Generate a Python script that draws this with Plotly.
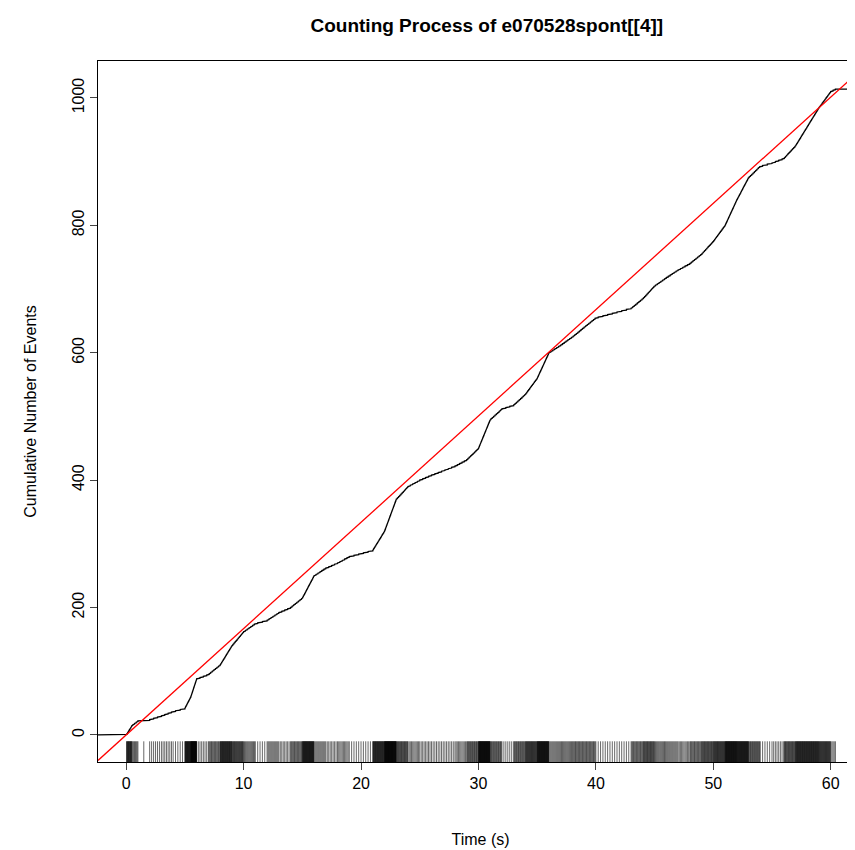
import numpy as np
import plotly.graph_objects as go

# knots of the counting process (time s, cumulative count)
knot_t = [-2.4, 0, 0.5, 1, 2, 3, 4, 5, 5.5, 6, 7, 8, 9, 10, 11, 12, 13, 14, 15, 16, 17, 18, 19, 20,
          21, 22, 23, 24, 25, 26, 27, 28, 29, 30, 31, 32, 33, 34, 35, 36, 37, 38, 39, 40, 41, 42,
          43, 44, 45, 46, 47, 48, 49, 50, 51, 52, 53, 54, 55, 56, 57, 58, 59, 60, 60.5, 62.75]
knot_n = [0, 0, 15, 22, 24, 30, 37, 42, 60, 88, 95, 110, 140, 162, 175, 180, 192, 200, 215, 250,
          262, 270, 280, 285, 290, 320, 370, 390, 400, 408, 415, 422, 432, 450, 495, 512, 518, 535,
          560, 600, 612, 625, 640, 655, 660, 665, 670, 685, 705, 718, 730, 740, 755, 775, 800, 840,
          875, 893, 898, 905, 925, 955, 985, 1010, 1015, 1015]
rate = 16.69  # slope of the red reference line (events / s)

# event times where the curve passes each integer count
counts = np.arange(1, 1016)
events = np.interp(counts, knot_n[1:], knot_t[1:])

step_x = [knot_t[0], 0]
step_y = [0, 0]
for i, t in enumerate(events):
    step_x += [t, t]
    step_y += [i, i + 1]
step_x.append(62.75)
step_y.append(1015)

rug_x, rug_y = [], []
for t in events:
    rug_x += [t, t, None]
    rug_y += [-42.5, -10, None]

fig = go.Figure()
fig.add_trace(go.Scatter(x=step_x, y=step_y, mode='lines',
                         line=dict(color='black', width=1.3)))
fig.add_trace(go.Scatter(x=rug_x, y=rug_y, mode='lines',
                         line=dict(color='black', width=0.6)))
fig.add_trace(go.Scatter(x=[-2.4, 62.75], y=[-2.4 * rate, 62.75 * rate], mode='lines',
                         line=dict(color='red', width=1.3)))

ax = dict(showline=True, linecolor='black', mirror=True, ticks='outside', ticklen=7,
          showgrid=False, zeroline=False, tickfont=dict(size=16, color='black'))
fig.update_layout(
    width=855, height=850, showlegend=False,
    plot_bgcolor='white', paper_bgcolor='white',
    font=dict(family='Liberation Sans, Arial', color='black'),
    margin=dict(l=90, r=0, t=53, b=96),
    title=dict(text='<b>Counting Process of e070528spont[[4]]</b>', x=0.56, y=0.98,
               yanchor='middle', font=dict(size=19)),
    xaxis=dict(ax, range=[-2.4, 62.75], tickvals=[0, 10, 20, 30, 40, 50, 60],
               title=dict(text='Time (s)', font=dict(size=16), standoff=42)),
    yaxis=dict(ax, range=[-42.5, 1058], tickvals=[0, 200, 400, 600, 800, 1000], tickangle=-90,
               title=dict(text='Cumulative Number of Events', font=dict(size=16), standoff=28)),
)
fig.write_html("out.html")
